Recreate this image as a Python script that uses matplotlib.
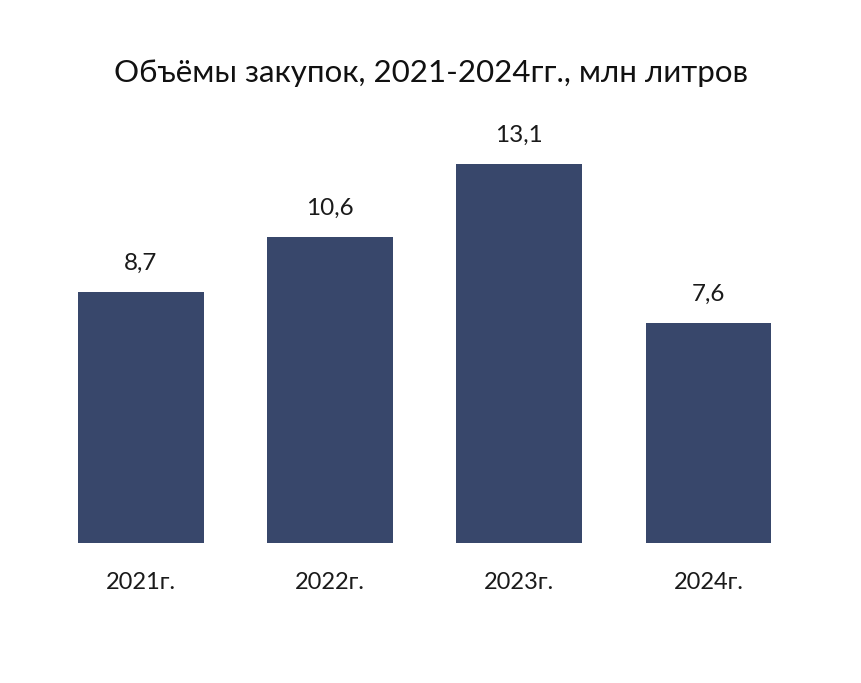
import matplotlib.pyplot as plt

# Data
years = ["2021г.", "2022г.", "2023г.", "2024г."]
volumes = [8.7, 10.6, 13.1, 7.6]
value_labels = ["8,7", "10,6", "13,1", "7,6"]

plt.rcParams['font.family'] = ['Lato', 'DejaVu Sans']

fig = plt.figure(figsize=(8.61, 6.83), dpi=100)
ax = fig.add_axes([0.0538, 0.205, 0.879, 0.5924])

x = range(len(years))
bars = ax.bar(x, volumes, width=0.665, color="#38476B")

for bar, lab in zip(bars, value_labels):
    ax.annotate(lab, (bar.get_x() + bar.get_width() / 2, bar.get_height()),
                xytext=(0, 13), textcoords="offset points",
                ha="center", va="bottom", fontsize=17.5, color="#1a1a1a")

ax.set_xlim(-0.5, 3.5)
ax.set_ylim(0, 14)
ax.set_xticks(list(x))
ax.set_xticklabels(years, fontsize=17, color="#1a1a1a")
ax.tick_params(axis="x", length=0, pad=21)
ax.set_yticks([])
for s in ax.spines.values():
    s.set_visible(False)

fig.text(0.5, 0.893, "Объёмы закупок, 2021-2024гг., млн литров",
         ha="center", va="center", fontsize=22.5, color="#111111")

fig.savefig("out.png", dpi=100)
